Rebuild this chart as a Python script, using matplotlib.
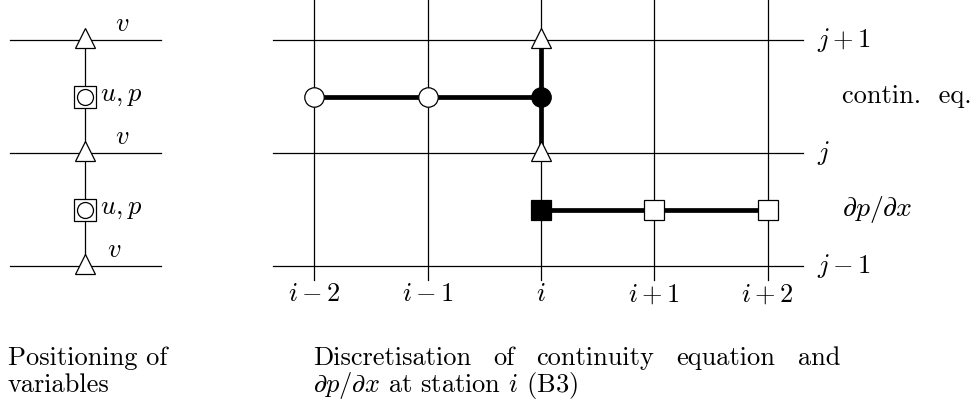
import matplotlib
matplotlib.use("Agg")
import matplotlib.pyplot as plt

plt.rcParams["mathtext.fontset"] = "cm"
plt.rcParams["font.family"] = "cmr10"
plt.rcParams["axes.formatter.use_mathtext"] = True

# grid stations (offsets from i) and levels (offsets from j)
i_offsets = [-2, -1, 0, 1, 2]
i_labels = [r"$i-2$", r"$i-1$", r"$i$", r"$i+1$", r"$i+2$"]
j_levels = [1, 0, -1]
j_labels = [r"$j+1$", r"$j$", r"$j-1$"]

# continuity equation stencil (row j+1/2)
contin_i = [-2, -1, 0]
contin_filled = [False, False, True]
contin_row = 0.5
# dp/dx stencil (row j-1/2)
dpdx_i = [0, 1, 2]
dpdx_filled = [True, False, False]
dpdx_row = -0.5
# v points on station i
v_levels = [1, 0]

# left panel: v on levels, u,p in cells
left_levels = [1, 0, -1]
left_cells = [0.5, -0.5]
left_col = -4.025

FS = 19
THIN = 0.9
THICK = 3.4
TRI_LIFT = 0.02  # triangles sit a touch above their line

fig = plt.figure(figsize=(9.78, 4.05), dpi=100)
ax = fig.add_axes([0, 0, 1, 1])
ax.set_xlim(-4.775, 3.857)
ax.set_ylim(-2.23, 1.354)
ax.axis("off")

# ---- right panel grid
for i in i_offsets:
    ax.plot([i, i], [-1.124, 1.4], color="black", lw=THIN, zorder=1)
for j in j_levels:
    ax.plot([-2.365, 2.312], [j, j], color="black", lw=THIN, zorder=1)

# thick stencil lines
ax.plot([contin_i[0], contin_i[-1]], [contin_row, contin_row], color="black", lw=THICK, zorder=2,
        solid_capstyle="butt")
ax.plot([0, 0], [min(v_levels), max(v_levels)], color="black", lw=THICK, zorder=2,
        solid_capstyle="butt")
ax.plot([dpdx_i[0], dpdx_i[-1]], [dpdx_row, dpdx_row], color="black", lw=THICK, zorder=2,
        solid_capstyle="butt")

# markers
for i, f in zip(contin_i, contin_filled):
    ax.plot(i, contin_row, "o", ms=14, mfc="black" if f else "white", mec="black", mew=0.9, zorder=4)
ax.plot([0] * len(v_levels), [v + TRI_LIFT for v in v_levels], "^", ms=15, mfc="white",
        mec="black", mew=0.9, zorder=4)
for i, f in zip(dpdx_i, dpdx_filled):
    ax.plot(i, dpdx_row, "s", ms=14, mfc="black" if f else "white", mec="black", mew=0.9, zorder=4)

# labels
for i, lab in zip(i_offsets, i_labels):
    ax.text(i, -1.25, lab, fontsize=FS, ha="center", va="center")
for j, lab in zip(j_levels, j_labels):
    ax.text(2.436, j, lab, fontsize=FS, ha="left", va="center")
ax.text(2.66, contin_row, "contin.  eq.", fontsize=FS, ha="left", va="center")
ax.text(2.66, dpdx_row, r"$\partial p/\partial x$", fontsize=FS + 1, ha="left", va="center")

# ---- left panel
for lv in left_levels:
    ax.plot([-4.687, -3.354], [lv, lv], color="black", lw=THIN, zorder=1)
ax.plot([left_col, left_col], [min(left_levels), max(left_levels)], color="black", lw=THIN, zorder=1)
ax.plot([left_col] * len(left_levels), [v + TRI_LIFT for v in left_levels], "^", ms=15,
        mfc="white", mec="black", mew=0.9, zorder=4)
ax.plot([left_col] * len(left_cells), left_cells, "s", ms=15.5, mfc="white", mec="black", mew=0.9,
        zorder=4)
ax.plot([left_col] * len(left_cells), left_cells, "o", ms=11.5, mfc="white", mec="black", mew=0.9,
        zorder=5)
for k, lv in enumerate(left_levels):
    dx = 0.33 if k < 2 else 0.26
    ax.text(left_col + dx, lv + 0.14, r"$v$", fontsize=FS, ha="center", va="center")
for c in left_cells:
    ax.text(left_col + 0.13, c, r"$u,p$", fontsize=FS, ha="left", va="center")

# ---- captions
y1, y2 = -1.876, -2.115
ax.text(-4.705, y1, "Positioning of", fontsize=FS, ha="left", va="baseline")
ax.text(-4.705, y2, "variables", fontsize=FS, ha="left", va="baseline")

# justified first line of right caption
words = ["Discretisation", "of", "continuity", "equation", "and"]
x_left, x_right = -2.012, 2.639
fig.canvas.draw()
renderer = fig.canvas.get_renderer()
txts = [ax.text(0, y1, w, fontsize=FS, ha="left", va="baseline") for w in words]
inv = ax.transData.inverted()
widths = []
for t in txts:
    bb = t.get_window_extent(renderer)
    (x0, _), (x1, _) = inv.transform([[bb.x0, bb.y0], [bb.x1, bb.y0]])
    widths.append(x1 - x0)
gap = (x_right - x_left - sum(widths)) / (len(words) - 1)
x = x_left
for t, w in zip(txts, widths):
    t.set_x(x)
    x += w + gap
ax.text(x_left, y2, r"$\partial p/\partial x$ at station $i$ (B3)", fontsize=FS, ha="left",
        va="baseline")

fig.savefig("out.png", dpi=100)
